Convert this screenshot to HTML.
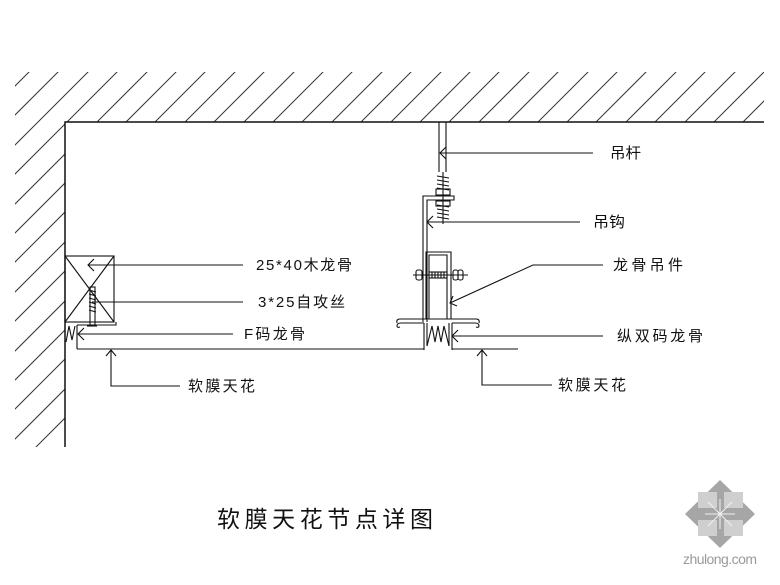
<!DOCTYPE html>
<html><head><meta charset="utf-8">
<style>
html,body{margin:0;padding:0;background:#fff;}
svg{display:block;}
text{font-family:"Liberation Sans","Noto Sans CJK SC",sans-serif;fill:#111;}
</style></head>
<body>
<svg width="780" height="585" viewBox="0 0 780 585" xmlns="http://www.w3.org/2000/svg">
<defs>
<clipPath id="hc"><polygon points="15,72 764,72 764,122 65,122 65,447 15,447"/></clipPath>
</defs>
<rect width="780" height="585" fill="#fff"/>
<!-- hatch -->
<g clip-path="url(#hc)" stroke="#333" stroke-width="1" fill="none">
<path d="M-359 460L41 60M-330 460L70 60M-300 460L100 60M-271 460L129 60M-241 460L159 60M-212 460L188 60M-183 460L217 60M-153 460L247 60M-124 460L276 60M-94 460L306 60M-65 460L335 60M-36 460L364 60M-6 460L394 60M23 460L423 60M53 460L453 60M82 460L482 60M111 460L511 60M141 460L541 60M170 460L570 60M200 460L600 60M229 460L629 60M258 460L658 60M288 460L688 60M317 460L717 60M347 460L747 60M376 460L776 60M405 460L805 60"/>
</g>
<!-- wall/ceiling line -->
<path d="M65 447V122H764" stroke="#111" stroke-width="1.5" fill="none"/>

<g stroke="#111" stroke-width="1.1" fill="none">
<!-- rod -->
<path d="M439 122V172M446 122V172"/>
<path d="M443 172V224"/>
<path d="M437 176L449 178M437 180L449 182M437 184L449 186M437 188L449 190M437 205L449 207M437 209L449 211M437 213L449 215M437 217L449 219"/>
<rect x="436" y="189" width="14" height="6"/>
<rect x="436" y="201" width="14" height="5"/>
<!-- hook -->
<path d="M423 322V196H454V200H427V322"/>
<!-- channel -->
<path d="M426 319V252H451V319M429 319V255H447V319"/>
<!-- bolt -->
<path d="M413 275H468"/>
<rect x="429" y="272" width="18" height="6"/>
<path d="M432 272V278M435 272V278M438 272V278M441 272V278M444 272V278"/>
<rect x="416" y="270" width="6" height="10" rx="2"/>
<rect x="453" y="270" width="5" height="10" rx="2"/>
<rect x="458" y="270" width="5" height="10" rx="2"/>
<!-- flange -->
<path d="M424 323H401Q397 323 397 326Q397 328 400 327M397 323Q396 319 400 319H476Q480 319 479 323M452 323H475Q479 323 479 326Q479 328 476 327"/>
<!-- teeth -->
<path d="M424 323V350M452 323V350M427 323V346M449 323V346"/>
<path d="M427 346L432 326L435 342L438 326L441 342L444 326L449 346"/>
<!-- film -->
<path d="M77 349H424M452 349H518"/>

<!-- wood block -->
<rect x="65" y="256" width="49" height="66"/>
<path d="M65 256L114 322M114 256L65 322"/>
<!-- screw -->
<rect x="90" y="287" width="5" height="38"/>
<path d="M89 290L96 292M89 294L96 296M89 298L96 300M89 302L96 304M89 306L96 308M89 310L96 312"/>
<path d="M87 326H97"/>
<!-- F keel -->
<path d="M77 325H116V322M77 325V349"/>
<path d="M66 342L69 326L72 340L75 326"/>

<!-- leaders -->
<path d="M440 153H593M446 147L440 153L446 159"/>
<path d="M427 222H580M433 216L427 222L433 228"/>
<path d="M450 303L533 265H603M453 296L450 303L457 306"/>
<path d="M452 336H603M458 330L452 336L458 342"/>
<path d="M482 350V385H552M477 356L482 350L487 356"/>
<path d="M88 265H243M94 259L88 265L94 271"/>
<path d="M92 302H243"/>
<path d="M78 334H233M84 328L78 334L84 340"/>
<path d="M111 350V386H180M106 356L111 350L116 356"/>
</g>

<!-- labels -->
<g font-size="15">
<text x="610" y="158" textLength="31" lengthAdjust="spacingAndGlyphs">吊杆</text>
<text x="593" y="227" textLength="32" lengthAdjust="spacingAndGlyphs">吊钩</text>
<text x="613" y="270" textLength="70" lengthAdjust="spacing">龙骨吊件</text>
<text x="617" y="341" textLength="86" lengthAdjust="spacing">纵双码龙骨</text>
<text x="558" y="390" textLength="68" lengthAdjust="spacing">软膜天花</text>
<text x="256" y="270" textLength="96" lengthAdjust="spacing">25*40木龙骨</text>
<text x="258" y="307" textLength="87" lengthAdjust="spacing">3*25自攻丝</text>
<text x="244" y="339" textLength="61" lengthAdjust="spacing">F码龙骨</text>
<text x="188" y="391" textLength="67" lengthAdjust="spacing">软膜天花</text>
</g>
<text x="217" y="527" font-size="23" textLength="216" lengthAdjust="spacing">软膜天花节点详图</text>

<!-- watermark -->
<polygon points="720,480 755,514 720,548 685,514" fill="#a6a6a6"/>
<rect x="698" y="492" width="19" height="16" fill="#cfcfcf"/>
<rect x="724" y="492" width="19" height="16" fill="#cfcfcf"/>
<rect x="698" y="520" width="19" height="16" fill="#cfcfcf"/>
<rect x="724" y="520" width="19" height="16" fill="#cfcfcf"/>
<path d="M705 514H735M720 499V529M708 502L732 526M732 502L708 526" stroke="#f2f2f2" stroke-width="1"/>
<text x="683" y="564" font-size="14" fill="#9a9a9a" style="fill:#9a9a9a" textLength="74" lengthAdjust="spacing">zhulong.com</text>
</svg>
</body></html>
